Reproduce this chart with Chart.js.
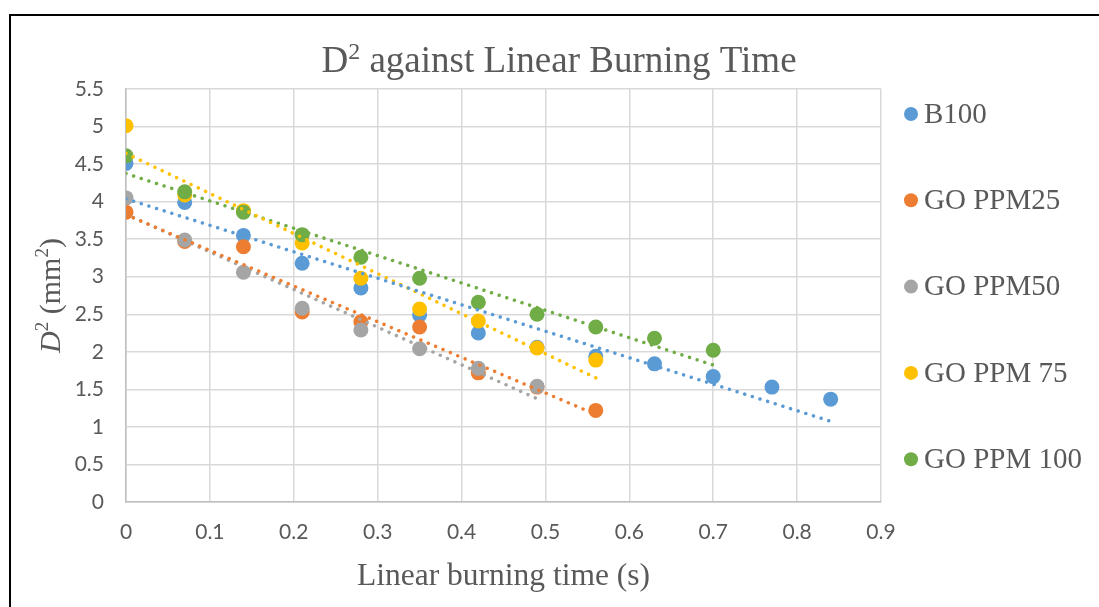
<!DOCTYPE html>
<html>
<head>
<meta charset="utf-8">
<script src="https://cdn.jsdelivr.net/npm/chart.js@4/dist/chart.umd.min.js"></script>
<style>
  html, body { margin: 0; padding: 0; background: #fff; }
  canvas { display: block; }
</style>
</head>
<body>
<canvas id="chart" width="1099" height="607"></canvas>
<script>
// burning time (s) at which each droplet diameter was sampled
const times = [0, 0.07, 0.14, 0.21, 0.28, 0.35, 0.42, 0.49, 0.56, 0.63, 0.7, 0.77, 0.84];

// D^2 (mm^2) for each fuel
const b100 = [4.51, 3.99, 3.55, 3.18, 2.85, 2.49, 2.25, 2.06, 1.94, 1.84, 1.67, 1.53, 1.37];
const ppm25 = [3.86, 3.47, 3.40, 2.53, 2.40, 2.33, 1.72, 1.53, 1.22];
const ppm50 = [4.05, 3.49, 3.06, 2.58, 2.29, 2.04, 1.78, 1.54];
const ppm75 = [5.01, 4.09, 3.88, 3.45, 2.98, 2.57, 2.41, 2.05, 1.89];
const ppm100 = [4.61, 4.13, 3.86, 3.56, 3.26, 2.98, 2.66, 2.50, 2.33, 2.18, 2.02];

const seriesNames = ["B100", "GO PPM25", "GO PPM50", "GO PPM 75", "GO PPM 100"];
const seriesValues = [b100, ppm25, ppm50, ppm75, ppm100];
const seriesColors = ["#5B9BD5", "#ED7D31", "#A5A5A5", "#FFC000", "#70AD47"];

const xTicks = [0, 0.1, 0.2, 0.3, 0.4, 0.5, 0.6, 0.7, 0.8, 0.9];
const yTicks = [0, 0.5, 1, 1.5, 2, 2.5, 3, 3.5, 4, 4.5, 5, 5.5];

const textGray = "#595959";

function toPoints(values) {
  return values.map((v, i) => ({ x: times[i], y: v }));
}

// least squares fit, drawn from x = 0 to the last sample
function trendLine(values) {
  const n = values.length;
  const xs = times.slice(0, n);
  const mx = xs.reduce((a, b) => a + b, 0) / n;
  const my = values.reduce((a, b) => a + b, 0) / n;
  let sxy = 0, sxx = 0;
  for (let i = 0; i < n; i++) {
    sxy += (xs[i] - mx) * (values[i] - my);
    sxx += (xs[i] - mx) * (xs[i] - mx);
  }
  const slope = sxy / sxx;
  const icept = my - slope * mx;
  return [
    { x: 0, y: icept },
    { x: xs[n - 1], y: icept + slope * xs[n - 1] },
  ];
}

const datasets = [];
seriesValues.forEach((values, i) => {
  datasets.push({
    label: seriesNames[i],
    data: toPoints(values),
    backgroundColor: seriesColors[i],
    borderColor: seriesColors[i],
    borderWidth: 0,
    pointRadius: 7.5,
    pointHoverRadius: 7.5,
    order: 10 - i, // later series sit on top
    inLegend: true,
  });
});
seriesValues.forEach((values, i) => {
  datasets.push({
    label: seriesNames[i] + " trend",
    data: trendLine(values),
    showLine: true,
    borderColor: seriesColors[i],
    borderWidth: 3.5,
    borderDash: [0.01, 8],
    borderCapStyle: "round",
    pointRadius: 0,
    order: 0,
    inLegend: false,
  });
});

// frame, title, axis titles and legend
const decorations = {
  id: "decorations",
  afterDraw(chart) {
    const ctx = chart.ctx;
    const area = chart.chartArea;
    ctx.save();

    // outer frame (left and top edges)
    ctx.strokeStyle = "#000";
    ctx.lineWidth = 2;
    ctx.beginPath();
    ctx.moveTo(10, chart.height);
    ctx.lineTo(10, 15);
    ctx.lineTo(chart.width, 15);
    ctx.stroke();

    ctx.fillStyle = textGray;
    ctx.textBaseline = "alphabetic";

    // chart title with superscript 2
    const big = "37px 'Liberation Serif'";
    const sup = "24px 'Liberation Serif'";
    ctx.font = big;
    const wD = ctx.measureText("D").width;
    const wRest = ctx.measureText(" against Linear Burning Time").width;
    ctx.font = sup;
    const w2 = ctx.measureText("2").width;
    let tx = 559 - (wD + w2 + wRest) / 2;
    const ty = 72;
    ctx.font = big;
    ctx.textAlign = "left";
    ctx.fillText("D", tx, ty);
    ctx.font = sup;
    ctx.fillText("2", tx + wD, ty - 13);
    ctx.font = big;
    ctx.fillText(" against Linear Burning Time", tx + wD + w2, ty);

    // x axis title
    ctx.font = "31.5px 'Liberation Serif'";
    ctx.textAlign = "center";
    ctx.fillText("Linear burning time (s)", (area.left + area.right) / 2, 585);

    // y axis title: italic D, superscripts
    ctx.translate(60, (area.top + area.bottom) / 2);
    ctx.rotate(-Math.PI / 2);
    const parts = [
      { t: "D", f: "italic 30px 'Liberation Serif'", dy: 0 },
      { t: "2", f: "19px 'Liberation Serif'", dy: -12 },
      { t: " (mm", f: "30px 'Liberation Serif'", dy: 0 },
      { t: "2", f: "19px 'Liberation Serif'", dy: -12 },
      { t: ")", f: "30px 'Liberation Serif'", dy: 0 },
    ];
    let total = 0;
    parts.forEach((p) => {
      ctx.font = p.f;
      p.w = ctx.measureText(p.t).width;
      total += p.w;
    });
    ctx.textAlign = "left";
    let px = -total / 2;
    parts.forEach((p) => {
      ctx.font = p.f;
      ctx.fillText(p.t, px, p.dy);
      px += p.w;
    });
    ctx.setTransform(1, 0, 0, 1, 0, 0);

    // legend
    const items = chart.data.datasets.filter((d) => d.inLegend);
    ctx.font = "29px 'Liberation Serif'";
    ctx.textBaseline = "middle";
    items.forEach((d, i) => {
      const cy = 114 + i * 86.3;
      ctx.fillStyle = d.backgroundColor;
      ctx.beginPath();
      ctx.arc(911, cy, 7, 0, Math.PI * 2);
      ctx.fill();
      ctx.fillStyle = textGray;
      ctx.fillText(d.label, 924, cy + 1);
    });

    ctx.restore();
  },
};

const ctx = document.getElementById("chart").getContext("2d");
new Chart(ctx, {
  type: "scatter",
  data: { datasets: datasets },
  plugins: [decorations],
  options: {
    responsive: false,
    animation: false,
    events: [],
    layout: { padding: { top: 89, right: 218, bottom: 0, left: 0 } },
    plugins: {
      legend: { display: false },
      title: { display: false },
      tooltip: { enabled: false },
    },
    scales: {
      x: {
        type: "linear",
        min: xTicks[0],
        max: xTicks[xTicks.length - 1],
        afterBuildTicks: (scale) => {
          scale.ticks = xTicks.map((v) => ({ value: v }));
        },
        afterFit: (scale) => {
          scale.height = 105;
        },
        ticks: {
          color: textGray,
          font: { family: "Lato", size: 21 },
          padding: 18,
          callback: (v) => String(v),
        },
        grid: { color: "#d9d9d9", lineWidth: 1.5, drawTicks: false },
        border: { color: "#bfbfbf", width: 1.5 },
      },
      y: {
        type: "linear",
        min: yTicks[0],
        max: yTicks[yTicks.length - 1],
        afterBuildTicks: (scale) => {
          scale.ticks = yTicks.map((v) => ({ value: v }));
        },
        afterFit: (scale) => {
          scale.width = 126;
        },
        ticks: {
          color: textGray,
          font: { family: "Lato", size: 21 },
          padding: 22,
          callback: (v) => String(v),
        },
        grid: { color: "#d9d9d9", lineWidth: 1.5, drawTicks: false },
        border: { color: "#bfbfbf", width: 1.5 },
      },
    },
  },
});
</script>
</body>
</html>
